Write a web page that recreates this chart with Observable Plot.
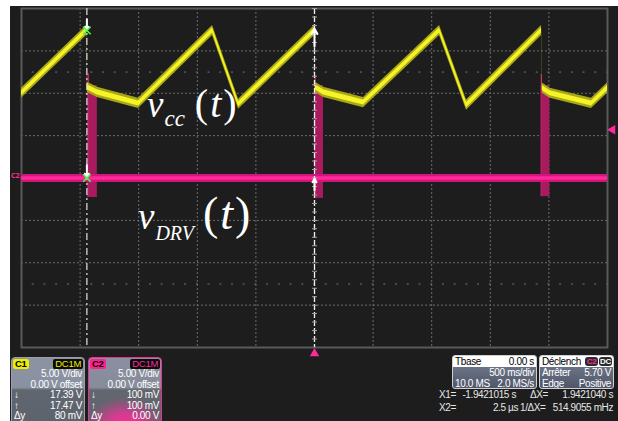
<!DOCTYPE html>
<html><head><meta charset="utf-8">
<script src="https://cdn.jsdelivr.net/npm/d3@7"></script>
<script src="https://cdn.jsdelivr.net/npm/@observablehq/plot@0.6"></script>
<style>
body{margin:0;background:#fff;}
#wrap{position:relative;width:618px;height:421px;overflow:hidden;background:#fff;font-family:"Liberation Sans",Arial,sans-serif;}
#scope{position:absolute;left:10px;top:6px;width:608px;height:415px;background:#1d1d1d;}
#chart{position:absolute;left:10px;top:6px;}
#chart svg text.anno, #chart svg text.anno tspan{font-family:"Liberation Serif","DejaVu Serif","Noto Serif",serif !important;}
.ch{position:absolute;top:357px;width:72px;height:70px;border-radius:4px 4px 0 0;overflow:hidden;color:#fff;font-size:10px;letter-spacing:-0.35px;}
.ch1{left:11px;border:1px solid #9aa0aa;background:linear-gradient(to bottom,#8b92a1 0%,#8a91a0 42%,#60666f 46%,#5d636d 100%);}
.ch2{left:88px;border:1px solid #e43595;background:radial-gradient(ellipse 70% 55% at 50% 100%,#ff2d9c 0%,rgba(255,45,156,0.75) 35%,rgba(255,45,156,0) 80%),linear-gradient(to bottom,#8a90a0 0%,#868c9a 42%,#62666f 46%,#5d636d 100%);}
.tag{position:absolute;top:1px;height:10px;line-height:10px;font-size:9.5px;font-weight:bold;padding:0 2px;border-radius:2px;letter-spacing:-0.3px;}
.row{position:absolute;left:2px;right:2px;height:11px;line-height:11px;white-space:nowrap;}
.row .l{position:absolute;left:0;}
.row .r{position:absolute;right:0;}
.bx{position:absolute;top:355px;height:32px;border:1px solid #d0d0d0;border-radius:3px;overflow:hidden;background:linear-gradient(to bottom,#7a8296,#4f566a);color:#fff;font-size:10px;letter-spacing:-0.35px;}
.hd{position:absolute;left:0;right:0;top:0;height:11px;background:#fff;color:#000;}
.rd{position:absolute;color:#e6e6e6;font-size:10px;letter-spacing:-0.4px;white-space:nowrap;height:12px;line-height:12px;}
</style>
</head>
<body>
<div id="wrap">
  <div id="scope"></div>
  <div id="chart"></div>
  <div id="panel"></div>
</div>
<script>
// ---------------- data ----------------
// Channel 1 (v_cc): time in seconds, voltage in volts (5 V/div, 500 ms/div)
const vccTime = [-2.5, -1.945, -1.938, -1.853, -1.502, -0.870, -0.648, 0.000, 0.007, 0.077, 0.418, 1.067, 1.297, 1.937, 1.944, 2.010, 2.363, 2.5];
const vccVolt = [10.0, 17.4, 10.7, 10.1, 8.8, 17.4, 8.7, 17.4, 10.7, 10.1, 8.9, 17.4, 8.6, 17.4, 10.6, 10.0, 8.8, 10.6];
// Channel 2 (v_DRV): baseline and switching bursts
const drvLevel = [0];
const burstStart = [-1.934, 0.004, 1.934];
const burstEnd = [-1.853, 0.077, 2.008];
const burstHigh = [10.9, 10.9, 10.9];
const burstLow = [-2.3, -2.4, -2.2];
const spikeEnd = [-1.919, 0.016, 1.946];
const spikeHigh = [12.3, 12.1, 12.2];
// Cursors and trigger
const cursorTimes = [-1.9421015, 0.0000025];
const cursorV1 = [17.4, 17.4];
const triggerLevel = [5.70];
// Graticule
const gridTime = [-2, -1.5, -1, -0.5, 0, 0.5, 1, 1.5, 2];
const gridVolt = [-15, -10, -5, 5, 10, 15];
const minorRowVolt = [-12.5, 12.5];
// Annotations
const labelTime = [-1.425, -1.502];
const labelVolt = [7.1, -6.1];
const labelSub = ["cc", "DRV"];
// Readout panels
const ch1Rows = [["", "5.00 V/div"], ["", "0.00 V offset"], ["↓", "17.39 V"], ["↑", "17.47 V"], ["Δy", "80 mV"]];
const ch2Rows = [["", "5.00 V/div"], ["", "0.00 V offset"], ["↓", "100 mV"], ["↑", "100 mV"], ["Δy", "0.00 V"]];
const tbaseRows = [["Tbase", "0.00 s"], ["", "500 ms/div"], ["10.0 MS", "2.0 MS/s"]];
const trigRows = [["Déclench", ""], ["Arrêter", "5.70 V"], ["Edge", "Positive"]];
const cursorText = [["X1=", "-1.9421015 s", "ΔX=", "1.9421040 s"], ["X2=", "2.5 µs", "1/ΔX=", "514.9055 mHz"]];

// ---------------- build ----------------
const vcc = vccTime.map((t, i) => ({t, v: vccVolt[i]}));
const bursts = burstStart.map((s, i) => ({t1: s, t2: burstEnd[i], lo: burstLow[i], hi: burstHigh[i]}));
const spikes = burstStart.map((s, i) => ({t1: s, t2: spikeEnd[i], lo: burstLow[i], hi: spikeHigh[i]}));
const band = 0.6, core = 0.3;

const arrows = [
  {t: cursorTimes[0], a: 18.7, b: 17.5},
  {t: cursorTimes[0], a: 1.5, b: 0.1},
  {t: cursorTimes[1], a: 15.5, b: 17.6},
  {t: cursorTimes[1], a: -1.5, b: -0.1}
];
const crosses = [{t: cursorTimes[0], v: cursorV1[0]}, {t: cursorTimes[0], v: drvLevel[0]}];

const pink = "#ff2a9a";
const plot = Plot.plot({
  width: 608, height: 415,
  marginLeft: 11, marginRight: 11, marginTop: 2, marginBottom: 74,
  x: {domain: [-2.5, 2.5], axis: null},
  y: {domain: [-20, 20], axis: null},
  style: {background: "transparent", overflow: "visible"},
  marks: [
    Plot.ruleX(gridTime, {stroke: "#6c6c6c", strokeDasharray: "2,2"}),
    Plot.ruleY(gridVolt, {stroke: "#6c6c6c", strokeDasharray: "2,2"}),
    Plot.ruleY(minorRowVolt, {stroke: "#777", strokeDasharray: "2,9.72", strokeDashoffset: 1}),
    Plot.frame({stroke: "#5a5a5a", strokeWidth: 2}),
    Plot.rect(bursts, {x1: "t1", x2: "t2", y1: "lo", y2: "hi", fill: "#a81c5f"}),
    Plot.rect(spikes, {x1: "t1", x2: "t2", y1: "lo", y2: "hi", fill: "#b51f66"}),
    Plot.ruleY(drvLevel, {stroke: "#d0167c", strokeWidth: 8}),
    Plot.ruleY(drvLevel, {stroke: pink, strokeWidth: 3.5}),
    Plot.areaY(vcc, {x: "t", y1: d => d.v - band, y2: d => d.v + band, fill: "#aaa716"}),
    Plot.areaY(vcc, {x: "t", y1: d => d.v - core, y2: d => d.v + core, fill: "#f4f428"}),
    Plot.ruleX([cursorTimes[0]], {stroke: "#e4e4e4", strokeWidth: 1.2, strokeDasharray: "7,3,2,3"}),
    Plot.ruleX([cursorTimes[1]], {stroke: "#f2f2f2", strokeWidth: 1.3, strokeDasharray: "6,2"}),
    Plot.ruleX([cursorTimes[1]], {stroke: "#a0a0a0", strokeWidth: 5, strokeDasharray: "1,7.475"}),
    Plot.arrow(arrows, {x1: "t", x2: "t", y1: "a", y2: "b", stroke: "#ffffff", strokeWidth: 2, headLength: 6, bend: 0}),
    Plot.dot(crosses, {x: "t", y: "v", symbol: "times", stroke: "#45ff45", r: 3.5, strokeWidth: 1.6}),
    Plot.dot([cursorTimes[1]], {x: d => d, frameAnchor: "bottom", dy: 6, symbol: "triangle", fill: pink, stroke: null, r: 3.5}),
    Plot.dot(triggerLevel, {y: d => d, frameAnchor: "right", dx: 5, symbol: "triangle", rotate: -90, fill: pink, stroke: null, r: 3.5}),
    Plot.text(["C2"], {y: () => drvLevel[0], frameAnchor: "left", dx: -2, dy: -2, textAnchor: "end", fill: pink, fontSize: 7, fontWeight: "bold"}),
    Plot.ruleY(drvLevel, {x1: -2.5, x2: -2.5, dx: -6, stroke: pink})
  ]
});
document.getElementById("chart").appendChild(plot);

// annotations in data coordinates via the plot's scales
const sx = plot.scale("x"), sy = plot.scale("y");
const labelStyle = [
  {main: 37, sub: 23, subDy: 9, gap: 10, paren: 40},
  {main: 37, sub: 20, subDy: 11, gap: 9, paren: 46}
];
labelTime.forEach((t, i) => {
  const st = labelStyle[i];
  const txt = d3.select(plot).append("text")
    .attr("class", "anno")
    .attr("x", sx.apply(t)).attr("y", sy.apply(labelVolt[i]))
    .attr("text-anchor", "start")
    .attr("font-family", "Liberation Serif")
    .attr("fill", "#fff");
  txt.append("tspan").attr("font-style", "italic").attr("font-size", st.main).text("v");
  txt.append("tspan").attr("font-style", "italic").attr("font-size", st.sub).attr("dy", st.subDy).attr("dx", 1).text(labelSub[i]);
  txt.append("tspan").attr("font-size", st.paren).attr("dy", -st.subDy).attr("dx", st.gap).text("(");
  txt.append("tspan").attr("font-style", "italic").attr("font-size", st.paren).attr("dx", 2).text("t");
  txt.append("tspan").attr("font-size", st.paren).attr("dx", 2).text(")");
});

// ---------------- readout panels ----------------
const panel = document.getElementById("panel");
function el(tag, cls, parent, css, text) {
  const e = document.createElement(tag);
  if (cls) e.className = cls;
  if (css) e.style.cssText = css;
  if (text != null) e.textContent = text;
  parent.appendChild(e);
  return e;
}
function channelBox(cls, name, tagBg, tagFg, rows) {
  const b = el("div", "ch " + cls, panel);
  el("span", "tag", b, `left:1px;background:${tagBg};color:#000;`, name);
  el("span", "tag", b, `right:1px;background:#0c0c0c;color:${tagFg};font-weight:normal;`, "DC1M");
  rows.forEach((r, i) => {
    const row = el("div", "row", b, `top:${10 + i * 10.6}px;`);
    if (r[0]) el("span", "l", row, null, r[0]);
    el("span", "r", row, null, r[1]);
  });
}
channelBox("ch1", "C1", "#eded00", "#eded00", ch1Rows);
channelBox("ch2", "C2", "#ff1f8f", pink, ch2Rows);

function infoBox(left, width, rows, chips) {
  const b = el("div", "bx", panel, `left:${left}px;width:${width}px;`);
  const hd = el("div", "hd", b);
  rows.forEach((r, i) => {
    const row = i === 0 ? el("div", "row", hd, "top:0;left:2px;right:2px;") : el("div", "row", b, `top:${1 + i * 10.3}px;`);
    if (r[0]) el("span", "l", row, null, r[0]);
    if (r[1]) el("span", "r", row, null, r[1]);
  });
  if (chips) {
    chips.forEach((c, i) => el("span", null, hd,
      `position:absolute;top:1px;right:${1 + (chips.length - 1 - i) * 14}px;width:13px;height:9px;line-height:9px;font-size:8px;text-align:center;border-radius:3px;background:#2a2a2a;color:${c[1]};font-weight:bold;`, c[0]));
  }
}
infoBox(452, 83, tbaseRows);
infoBox(539, 73, trigRows, [["C2", pink], ["DC", "#fff"]]);

const rdLeft = [[439, 530], [439, 520]];
const rdRight = [[516, 613], [518, 613]];
cursorText.forEach((r, i) => {
  const top = 389 + i * 13;
  el("div", "rd", panel, `left:${rdLeft[i][0]}px;top:${top}px;`, r[0]);
  el("div", "rd", panel, `right:${618 - rdRight[i][0]}px;top:${top}px;`, r[1]);
  el("div", "rd", panel, `left:${rdLeft[i][1]}px;top:${top}px;`, r[2]);
  el("div", "rd", panel, `right:${618 - rdRight[i][1]}px;top:${top}px;`, r[3]);
});
</script>
</body></html>
